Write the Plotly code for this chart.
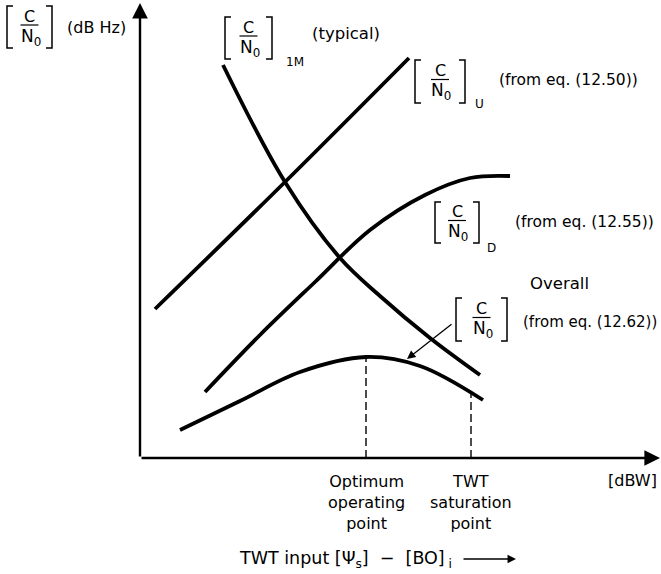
import plotly.graph_objects as go

# ---- schematic data (arbitrary units; origin at the axes crossing) ----
uplink_x = [15, 145, 269]
uplink_y = [149, 276, 400]

im_x = [83, 145, 200, 240, 290, 340]
im_y = [393, 276, 200, 162, 120, 83]

down_x = [65, 120, 175, 230, 285, 330, 370]
down_y = [66, 123, 176, 228, 263, 280, 282]

overall_x = [40, 100, 160, 226, 280, 343]
overall_y = [28, 57, 86, 101, 92, 58]

optimum_x, optimum_y = 226, 101
saturation_x, saturation_y = 331, 65

op_labels = ["Optimum<br>operating<br>point", "TWT<br>saturation<br>point"]

FONT = "DejaVu Sans"
OX, OY = 140, 458  # pixel position of the origin (layout only)
NB = "\u00a0"


def P(px, py):
    return px - OX, OY - py


fig = go.Figure()

curve_style = dict(mode="lines", line=dict(color="black", width=3.8, shape="spline", smoothing=1.0),
                   hoverinfo="skip", showlegend=False)
for xs, ys in [(uplink_x, uplink_y), (im_x, im_y), (down_x, down_y), (overall_x, overall_y)]:
    fig.add_trace(go.Scatter(x=xs, y=ys, **curve_style))

# dashed drop lines
for xv, yv in [(optimum_x, optimum_y), (saturation_x, saturation_y)]:
    fig.add_trace(go.Scatter(x=[xv, xv], y=[0, yv], mode="lines",
                             line=dict(color="black", width=1.4, dash="8px,4px"),
                             hoverinfo="skip", showlegend=False))

shapes = []
annotations = []


def bracket_group(l, r, t, b, sub=None, sub_xy=None):
    lx, ty = P(l, t)
    rx, by = P(r, b)
    tick = 6
    shapes.append(dict(type="path", path=f"M {lx+tick},{ty} L {lx},{ty} L {lx},{by} L {lx+tick},{by}",
                       line=dict(color="black", width=1.5), xref="x", yref="y"))
    shapes.append(dict(type="path", path=f"M {rx-tick},{ty} L {rx},{ty} L {rx},{by} L {rx-tick},{by}",
                       line=dict(color="black", width=1.5), xref="x", yref="y"))
    cx = (lx + rx) / 2
    midpy = (t + b) / 2 - 2
    _, ly = P(0, midpy)
    shapes.append(dict(type="line", x0=cx - 9, x1=cx + 9, y0=ly, y1=ly,
                       line=dict(color="black", width=1.2), xref="x", yref="y"))
    annotations.append(dict(x=cx, y=P(0, midpy - 9)[1], text="C", showarrow=False,
                            font=dict(family=FONT, size=16, color="black"), xanchor="center", yanchor="middle"))
    annotations.append(dict(x=cx + 1, y=P(0, midpy + 12)[1], text="N<sub>0</sub>", showarrow=False,
                            font=dict(family=FONT, size=17, color="black"), xanchor="center", yanchor="middle"))
    if sub:
        sx, sy = P(*sub_xy)
        annotations.append(dict(x=sx, y=sy, text=sub, showarrow=False,
                                font=dict(family=FONT, size=12, color="black"), xanchor="left", yanchor="middle"))


def text(px, py, s, size=15, anchor="center"):
    x, y = P(px, py)
    annotations.append(dict(x=x, y=y, text=s, showarrow=False, xanchor=anchor, yanchor="middle",
                            font=dict(family=FONT, size=size, color="black")))


# y-axis label
bracket_group(7, 52, 6, 48)
text(65, 27, "(dB Hz)", 16, "left")
# 1M
bracket_group(225, 272, 17, 59, "1M", (284, 62))
text(310, 33, "(typical)", 16.5, "left")
# uplink
bracket_group(415, 465, 60, 103, "U", (473, 104))
text(497, 80, "(from eq. (12.50))", 15.5, "left")
# downlink
bracket_group(435, 479, 202, 243, "D", (485, 248))
text(513, 222, "(from eq. (12.55))", 15.5, "left")
# overall
text(528, 283, "Overall", 16.5, "left")
bracket_group(456, 507, 298, 341)
text(521, 322, "(from eq. (12.62))", 15, "left")

# operating point labels
for xv, lab in zip([optimum_x, saturation_x], op_labels):
    annotations.append(dict(x=xv, y=P(0, 470)[1], text=lab, showarrow=False, xanchor="center", yanchor="top",
                            font=dict(family=FONT, size=16, color="black")))
text(606, 480, "[dBW]", 16, "left")
text(237, 559, f"TWT input [Ψ<sub>s</sub>]{NB}{NB}−{NB}{NB}[BO]<sub>{NB}i</sub>", 17.5, "left")

# arrows
def arrow(p_from, p_to, width, size, head=2):
    x0, y0 = P(*p_from)
    x1, y1 = P(*p_to)
    annotations.append(dict(x=x1, y=y1, ax=x0, ay=y0, xref="x", yref="y", axref="x", ayref="y",
                            text="", showarrow=True, arrowhead=head, arrowsize=size, arrowwidth=width,
                            arrowcolor="black", standoff=0, startstandoff=0))


arrow((140, 458), (140, 3), 2.4, 1.3)     # y axis
arrow((140, 458), (660, 458), 2.4, 1.3)   # x axis
arrow((453, 323), (407, 359), 1.3, 1.3)   # pointer to overall curve
arrow((462, 559), (516, 559), 1.3, 1.3)   # bottom label arrow

fig.update_layout(
    width=661, height=574,
    margin=dict(l=0, r=0, t=0, b=0),
    paper_bgcolor="white", plot_bgcolor="white",
    xaxis=dict(range=[-OX, 661 - OX], visible=False, fixedrange=True),
    yaxis=dict(range=[OY - 574, OY], visible=False, fixedrange=True),
    shapes=shapes, annotations=annotations,
    showlegend=False,
)

fig.write_html("out.html", config={"displayModeBar": False},
               post_script="document.body.style.margin='0';document.body.style.overflow='hidden';")
